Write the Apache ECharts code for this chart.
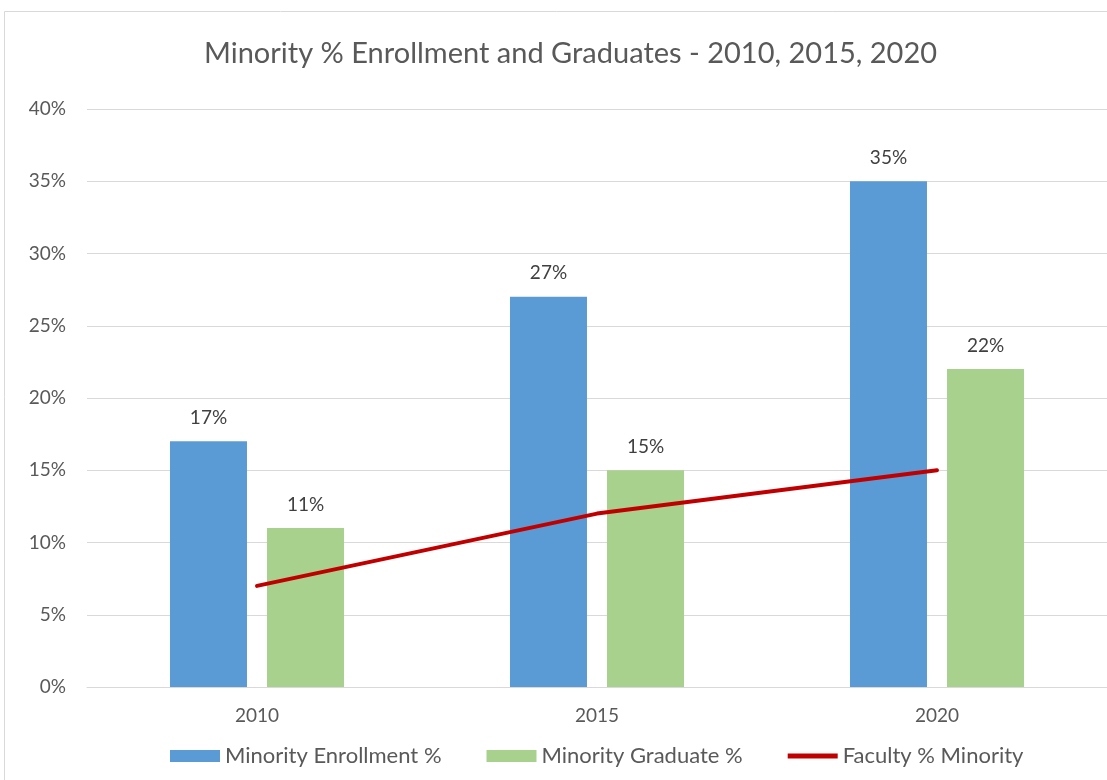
<!DOCTYPE html>
<html>
<head>
<meta charset="utf-8">
<script src="https://cdn.jsdelivr.net/npm/echarts@6/dist/echarts.min.js"></script>
</head>
<body style="margin:0">
<div id="main" style="width:1107px;height:780px;"></div>
<script>
const years = ['2010', '2015', '2020'];
const enrollment = [17, 27, 35];
const graduates = [11, 15, 22];
const faculty = [7, 12, 15];

const font = 'Lato';
const myChart = echarts.init(document.getElementById('main'));
const option = {
  textStyle: { fontFamily: font },
  graphic: [{
    type: 'rect',
    shape: { x: 4.5, y: 11.5, width: 1200, height: 800 },
    style: { fill: 'none', stroke: '#d9d9d9', lineWidth: 1 },
    silent: true
  }],
  title: {
    text: 'Minority % Enrollment and Graduates - 2010, 2015, 2020',
    left: 199,
    top: 34,
    textStyle: { color: '#595959', fontSize: 29, fontWeight: 'normal', fontFamily: font }
  },
  legend: {
    top: 740,
    left: 165,
    itemWidth: 50,
    itemHeight: 12,
    itemGap: 45,
    textStyle: { color: '#595959', fontSize: 22, fontFamily: font },
    data: [
      { name: 'Minority Enrollment %', icon: 'rect' },
      { name: 'Minority Graduate %', icon: 'rect' },
      { name: 'Faculty % Minority', icon: 'path://M0,0M0,12M0,3.5L50,3.5L50,8.5L0,8.5Z' }
    ]
  },
  grid: { left: 87, right: 0, top: 109, bottom: 93 },
  xAxis: {
    type: 'category',
    data: years,
    axisTick: { show: false },
    axisLine: { lineStyle: { color: '#d9d9d9' } },
    axisLabel: { color: '#595959', fontSize: 19, margin: 19, fontFamily: font }
  },
  yAxis: {
    type: 'value',
    min: 0,
    max: 40,
    interval: 5,
    axisLabel: { formatter: '{value}%', color: '#595959', fontSize: 19, margin: 21, fontFamily: font },
    splitLine: { lineStyle: { color: '#d9d9d9' } }
  },
  series: [
    {
      name: 'Minority Enrollment %',
      type: 'bar',
      data: enrollment,
      barWidth: 77,
      barGap: '26%',
      itemStyle: { color: '#5b9bd5' },
      label: { show: true, position: 'top', distance: 14, formatter: '{c}%', color: '#404040', fontSize: 19, fontFamily: font }
    },
    {
      name: 'Minority Graduate %',
      type: 'bar',
      data: graduates,
      barWidth: 77,
      itemStyle: { color: '#a9d18e' },
      label: { show: true, position: 'top', distance: 14, formatter: '{c}%', color: '#404040', fontSize: 19, fontFamily: font }
    },
    {
      name: 'Faculty % Minority',
      type: 'line',
      data: faculty,
      symbol: 'none',
      itemStyle: { color: '#c00000' },
      lineStyle: { color: '#c00000', width: 4, cap: 'round' },
      z: 5
    }
  ]
};
myChart.setOption(option);
</script>
</body>
</html>
